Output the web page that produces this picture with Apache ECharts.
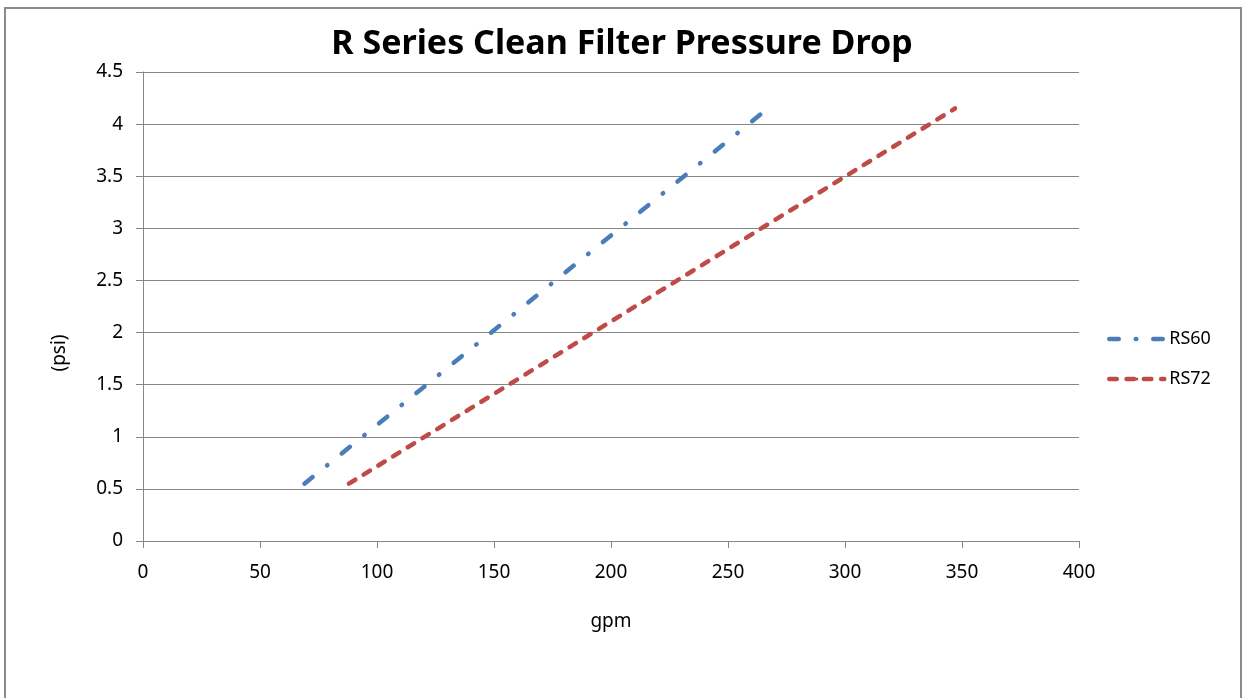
<!DOCTYPE html>
<html>
<head>
<meta charset="utf-8">
<title>R Series Clean Filter Pressure Drop</title>
<script src="https://cdn.jsdelivr.net/npm/echarts@6/dist/echarts.min.js"></script>
<style>
  html, body { margin: 0; padding: 0; background: #fff; }
  #chart { width: 1244px; height: 698px; }
</style>
</head>
<body>
<div id="chart"></div>
<script>
// Flow (gpm) vs clean-filter pressure drop (psi)
const seriesNames = ['RS60', 'RS72'];
const rs60 = [[69, 0.55], [267, 4.15]];
const rs72 = [[88, 0.55], [347, 4.15]];
const xTicks = { min: 0, max: 400, step: 50 };
const yTicks = { min: 0, max: 4.5, step: 0.5 };

const FONT = '"Noto Sans", "Open Sans", sans-serif';
const GRID_GRAY = '#868686';
const BLUE = '#4a7ebb';
const RED = '#be4b48';
const DASH_DOT = [10.5, 18.5, 0.5, 18.5];
const DASHED = [7.5, 9.8];
const LINE_W = 4.5;

const chart = echarts.init(document.getElementById('chart'), null, { renderer: 'canvas' });

chart.setOption({
  backgroundColor: '#ffffff',
  animation: false,
  title: {
    text: 'R Series Clean Filter Pressure Drop',
    left: 'center',
    top: 22,
    textStyle: { fontFamily: FONT, fontWeight: 'bold', fontSize: 34, color: '#000' }
  },
  legend: {
    orient: 'vertical',
    left: 1102,
    top: 325,
    itemWidth: 55,
    itemHeight: 4,
    itemGap: 22,
    textStyle: { fontFamily: FONT, fontSize: 18, color: '#000' },
    data: [
      { name: seriesNames[0], lineStyle: { width: LINE_W, type: [9.5, 17, 0.5, 17], cap: 'round', color: BLUE } },
      { name: seriesNames[1], lineStyle: { width: LINE_W, type: DASHED, cap: 'round', color: RED } }
    ]
  },
  graphic: [
    {
      type: 'rect',
      shape: { x: 5, y: 8, width: 1236, height: 720 },
      style: { fill: 'none', stroke: '#8a8a8a', lineWidth: 2 },
      silent: true
    },
    {
      type: 'text',
      x: 60,
      y: 353,
      rotation: Math.PI / 2,
      style: {
        text: '(psi)',
        fontFamily: FONT,
        fontSize: 19,
        fill: '#000',
        align: 'center',
        verticalAlign: 'middle'
      }
    }
  ],
  grid: { left: 143, right: 165, top: 72, bottom: 157, containLabel: false },
  xAxis: {
    type: 'value',
    min: xTicks.min,
    max: xTicks.max,
    interval: xTicks.step,
    name: 'gpm',
    nameLocation: 'middle',
    nameGap: 71,
    nameTextStyle: { fontFamily: FONT, fontSize: 19, color: '#000' },
    axisLine: { show: true, onZero: false, lineStyle: { color: GRID_GRAY, width: 1 } },
    axisTick: { show: true, length: 7, lineStyle: { color: GRID_GRAY } },
    axisLabel: { fontFamily: FONT, fontSize: 19, color: '#000', margin: 22 },
    splitLine: { show: false }
  },
  yAxis: {
    type: 'value',
    min: yTicks.min,
    max: yTicks.max,
    interval: yTicks.step,
    axisLine: { show: true, lineStyle: { color: GRID_GRAY, width: 1 } },
    axisTick: { show: true, length: 7, lineStyle: { color: GRID_GRAY } },
    axisLabel: { fontFamily: FONT, fontSize: 19, color: '#000', margin: 20 },
    splitLine: { show: true, lineStyle: { color: GRID_GRAY, width: 1 } }
  },
  series: [
    {
      name: seriesNames[0],
      type: 'line',
      data: rs60,
      symbol: 'none',
      color: BLUE,
      lineStyle: { color: BLUE, width: LINE_W, type: DASH_DOT, cap: 'round' }
    },
    {
      name: seriesNames[1],
      type: 'line',
      data: rs72,
      symbol: 'none',
      color: RED,
      lineStyle: { color: RED, width: LINE_W, type: DASHED, cap: 'round' }
    }
  ]
});
</script>
</body>
</html>
